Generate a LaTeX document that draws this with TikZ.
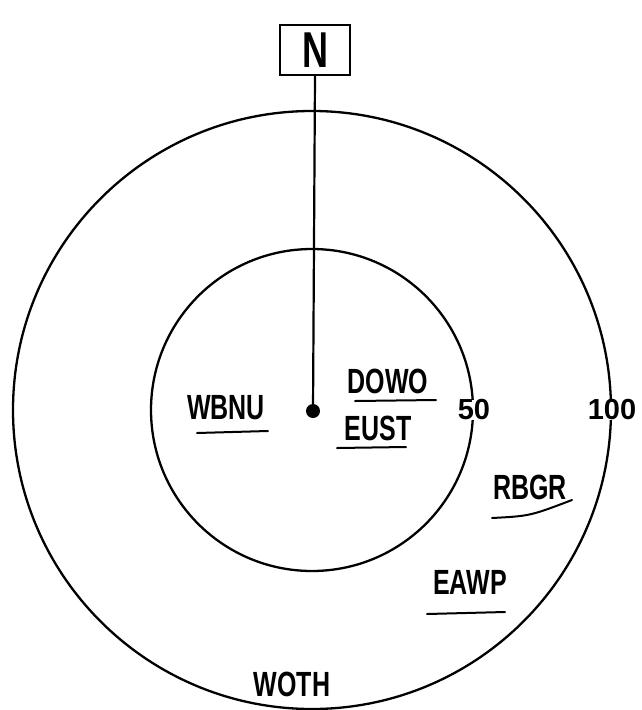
\documentclass[tikz,border=0pt]{standalone}
\usepackage{fontspec}
\setmainfont{Liberation Sans}
\newcommand{\tallhand}[1]{\scalebox{1}[1.4]{#1}}
\begin{document}
\begin{tikzpicture}[x=1pt,y=-1pt,
  ring/.style={line width=2.3pt},
  hand/.style={font=\fontsize{25}{27}\selectfont\bfseries, inner sep=0pt},
  ul/.style={line width=2pt, line cap=round},
  scale lbl/.style={font=\fontsize{29}{31}\selectfont\bfseries, inner sep=0pt, fill=white, inner xsep=1pt}
]
\useasboundingbox (0,0) rectangle (641,710);
\coordinate (c) at (312,410);
\draw[ring] (c) circle (299);
\draw[ring] (c) circle (161);
\node[draw, line width=2.3pt, minimum width=70pt, minimum height=50pt, inner sep=0pt,
      font=\fontsize{36}{38}\selectfont\bfseries] (N) at (315,50) {\tallhand{N}};
\node[circle, fill=black, minimum size=14pt, inner sep=0pt] (dot) at (313,411) {};
\draw[line width=2.2pt] (N.south) -- (dot.center);
% scale labels
\node[scale lbl] (l50) at (474,410) {50};
\node[scale lbl] (l100) at (612,410) {100};
% handwritten species codes
\node[hand] (wbnu) at (226,408) {\tallhand{WBNU}};
\node[hand] (dowo) at (388,381) {\tallhand{DOWO}};
\node[hand] (eust) at (378,428) {\tallhand{EUST}};
\node[hand] (rbgr) at (530,487) {\tallhand{RBGR}};
\node[hand] (eawp) at (470,582) {\tallhand{EAWP}};
\node[hand] (woth) at (292,684) {\tallhand{WOTH}};
% underlines
\coordinate (u1a) at (197,433); \coordinate (u1b) at (268,431);
\coordinate (u2a) at (355,401); \coordinate (u2b) at (436,400);
\coordinate (u3a) at (337,448); \coordinate (u3b) at (406,447);
\coordinate (u4a) at (492,518); \coordinate (u4b) at (572,500);
\coordinate (u5a) at (427,614); \coordinate (u5b) at (505,612);
\draw[ul] (u1a) -- (u1b);
\draw[ul] (u2a) -- (u2b);
\draw[ul] (u3a) -- (u3b);
\draw[ul] (u4a) .. controls (530,516) .. (u4b);
\draw[ul] (u5a) -- (u5b);
\end{tikzpicture}
\end{document}
